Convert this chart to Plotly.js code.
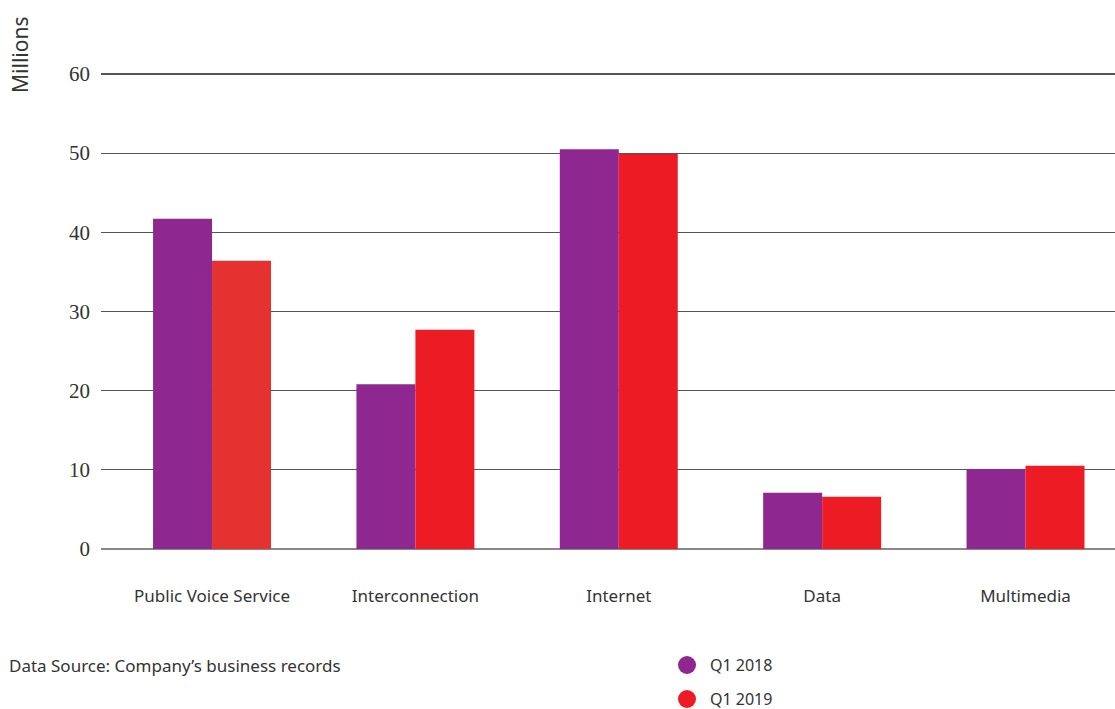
<!DOCTYPE html>
<html>
<head>
<meta charset="utf-8">
<script src="https://cdn.plot.ly/plotly-3.0.1.min.js"></script>
<style>html,body{margin:0;padding:0;background:#fff;}#chart{width:1115px;height:709px;}</style>
</head>
<body>
<div id="chart"></div>
<script>
const categories = ["Public Voice Service", "Interconnection", "Internet", "Data", "Multimedia"];
const seriesNames = ["Q1 2018", "Q1 2019"];
const q1_2018 = [41.7, 20.8, 50.5, 7.1, 10.1];
const q1_2019 = [36.4, 27.7, 49.9, 6.6, 10.5];
const yTicks = [0, 10, 20, 30, 40, 50, 60];
const yAxisTitle = "Millions";
const sourceNote = "Data Source: Company\u2019s business records";

const purple = "#8E278F";
const red = "#ED1C24";
const redPVS = "#E5312F";
const sans = "Noto Sans, sans-serif";
const serif = "Liberation Serif, serif";

const traces = [
  {type: "bar", name: seriesNames[0], x: categories, y: q1_2018,
   marker: {color: purple}, showlegend: false, hoverinfo: "y"},
  {type: "bar", name: seriesNames[1], x: categories, y: q1_2019,
   marker: {color: categories.map((c, i) => i === 0 ? redPVS : red)}, showlegend: false, hoverinfo: "y"}
];

const T = 70, H = 479;
const legendColors = [purple, red];
const shapes = [];
const annotations = [];
seriesNames.forEach((n, i) => {
  const cy = 665 + i * 34;
  shapes.push({type: "circle", xref: "paper", yref: "paper", xsizemode: "pixel", ysizemode: "pixel",
    xanchor: (687 - 101) / 1014, yanchor: 1 - (cy - T) / H,
    x0: -9, x1: 9, y0: -9, y1: 9, fillcolor: legendColors[i], line: {width: 0}});
  annotations.push({xref: "paper", yref: "paper", x: (708 - 101) / 1014, y: 1 - (cy - T) / H,
    xanchor: "left", yanchor: "middle", showarrow: false, text: n,
    font: {family: sans, size: 16, color: "#333"}});
});
annotations.push({xref: "paper", yref: "paper", x: (7 - 101) / 1014, y: 1 - (665 - T) / H,
  xanchor: "left", yanchor: "middle", showarrow: false, text: sourceNote,
  font: {family: sans, size: 17, color: "#333"}});
annotations.push({xref: "paper", yref: "paper", x: (20 - 101) / 1014, y: 1 - (55 - T) / H,
  xanchor: "center", yanchor: "middle", showarrow: false, text: yAxisTitle, textangle: -90,
  font: {family: sans, size: 21, color: "#333"}});

const layout = {
  width: 1115, height: 709,
  margin: {l: 101, r: 0, t: T, b: 709 - T - H},
  paper_bgcolor: "#fff", plot_bgcolor: "#fff",
  barmode: "group", bargap: 0.42, bargroupgap: 0,
  xaxis: {type: "category", range: [-0.546, 4.44], showgrid: false, zeroline: false, showline: false,
    ticks: "", ticklabelstandoff: 35, tickfont: {family: sans, size: 17, color: "#333"}},
  yaxis: {range: [0, 60.5], tickvals: yTicks, showgrid: true, gridcolor: "#555", gridwidth: 1.2,
    zeroline: true, zerolinecolor: "#888", zerolinewidth: 2, showline: false, ticks: "",
    ticklabelstandoff: 10, tickfont: {family: serif, size: 21, color: "#333"}},
  shapes: shapes,
  annotations: annotations,
  showlegend: false
};

Plotly.newPlot("chart", traces, layout, {displayModeBar: false, staticPlot: true});
</script>
</body>
</html>
